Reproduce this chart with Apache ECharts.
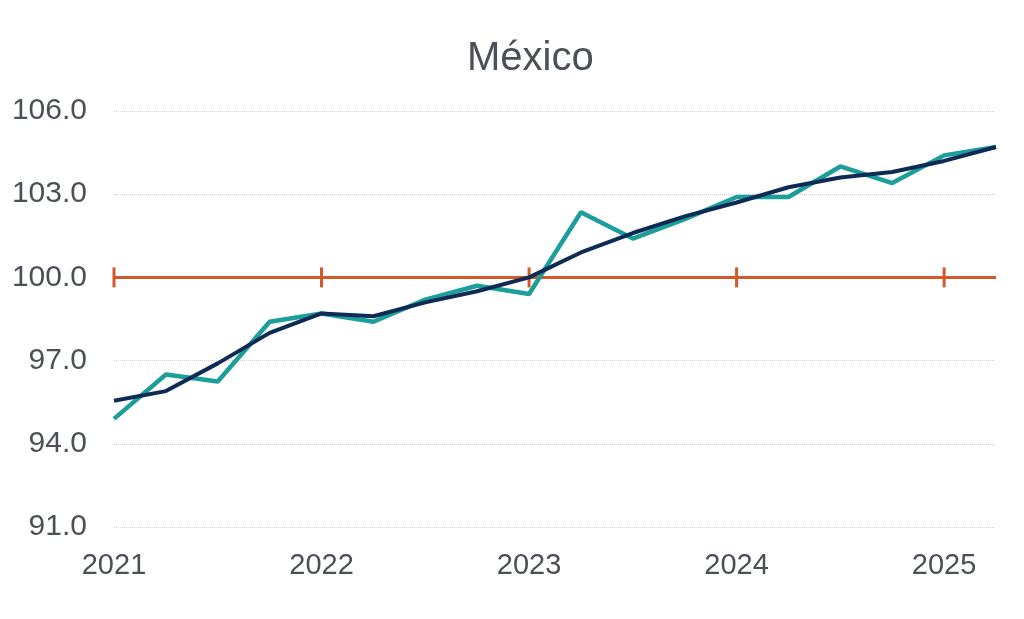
<!DOCTYPE html>
<html>
<head>
<meta charset="utf-8">
<script src="https://cdn.jsdelivr.net/npm/echarts@6/dist/echarts.min.js"></script>
<style>html,body{margin:0;padding:0;background:#fff}#c{width:1024px;height:619px}</style>
</head>
<body>
<div id="c"></div>
<script>
var categories = ['2021Q1','2021Q2','2021Q3','2021Q4','2022Q1','2022Q2','2022Q3','2022Q4','2023Q1','2023Q2','2023Q3','2023Q4','2024Q1','2024Q2','2024Q3','2024Q4','2025Q1','2025Q2'];
var actual = [94.9,96.5,96.25,98.4,98.7,98.4,99.2,99.7,99.4,102.35,101.4,102.1,102.9,102.9,104.0,103.4,104.4,104.7];
var trend = [95.55,95.9,96.9,98.0,98.7,98.6,99.1,99.5,100.0,100.9,101.6,102.2,102.7,103.25,103.6,103.8,104.2,104.7];
var baseValue = 100;
var yTicks = [91,94,97,100,103,106];

var baseData = categories.map(function(c){
  var isYear = c.slice(4) === 'Q1';
  return {value: baseValue, symbol: isYear ? 'rect' : 'none', symbolSize: isYear ? [3,20] : 0};
});

var chart = echarts.init(document.getElementById('c'));
chart.setOption({
  animation: false,
  title: {text: 'México', left: 462, top: 34, textStyle: {fontFamily: 'Liberation Sans, Arial, sans-serif', fontSize: 40, fontWeight: 'normal', color: '#4b5056'}},
  grid: {left: 114, right: 28, top: 111, bottom: 92, containLabel: false},
  xAxis: {
    type: 'category', data: categories, boundaryGap: false,
    axisLine: {show: false}, axisTick: {show: false}, splitLine: {show: false},
    axisLabel: {
      interval: function(i){ return i % 4 === 0; },
      formatter: function(v){ return v.slice(0,4); },
      fontFamily: 'Liberation Sans, Arial, sans-serif', fontSize: 29, color: '#4b5056', margin: 24
    }
  },
  yAxis: {
    type: 'value', min: yTicks[0], max: yTicks[yTicks.length-1], interval: 3,
    axisLine: {show: false}, axisTick: {show: false},
    splitLine: {show: true, lineStyle: {color: '#d0d0d0', type: 'dotted', width: 1}},
    axisLabel: {formatter: function(v){ return v.toFixed(1); }, fontFamily: 'Liberation Sans, Arial, sans-serif', fontSize: 30, color: '#4b5056', margin: 27}
  },
  series: [
    {type: 'line', data: baseData, lineStyle: {color: '#d4592a', width: 3}, itemStyle: {color: '#d4592a'}, z: 2, silent: true},
    {type: 'line', data: actual, symbol: 'none', lineStyle: {color: '#1c9e9b', width: 4.5}, z: 3},
    {type: 'line', data: trend, symbol: 'none', lineStyle: {color: '#0d2b55', width: 4}, z: 4}
  ]
});
</script>
</body>
</html>
